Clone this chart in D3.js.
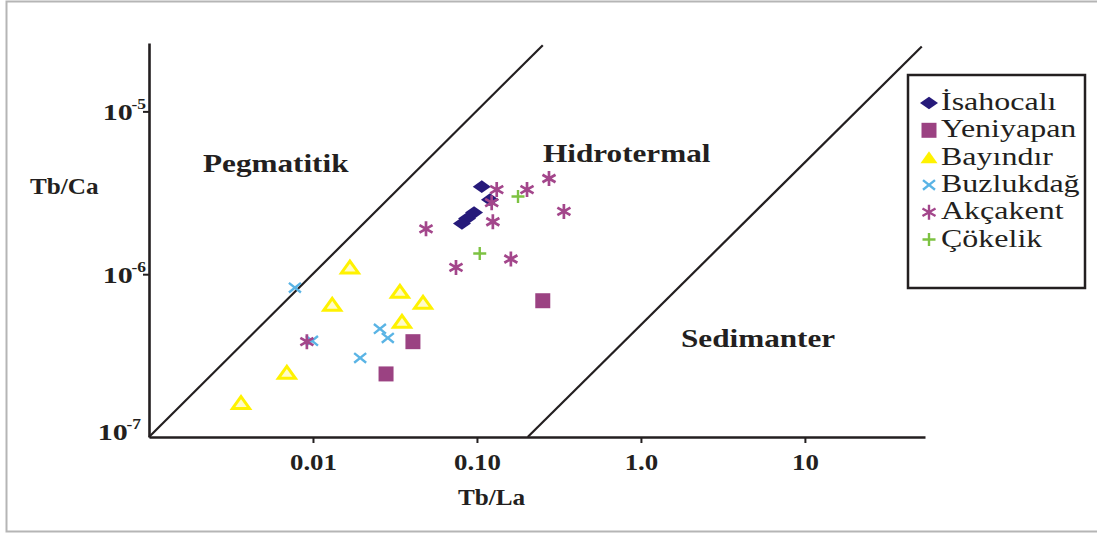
<!DOCTYPE html>
<html>
<head>
<meta charset="utf-8">
<script src="https://cdn.jsdelivr.net/npm/d3@7"></script>
<style>
  body { margin: 0; background: #fff; }
  svg { display: block; }
</style>
</head>
<body>
<div id="vis"></div>
<script>
// values, each point is [Tb/La, Tb/Ca]
var isahocali = [[0.107, 3.45e-6], [0.120, 2.87e-6], [0.096, 2.39e-6], [0.087, 2.2e-6], [0.081, 2.05e-6]];
var yeniyapan = [[0.252, 6.87e-7], [0.0407, 3.85e-7], [0.0279, 2.44e-7]];
var bayindir = [[0.00364, 1.62e-7], [0.00693, 2.48e-7], [0.0131, 6.49e-7], [0.0168, 1.10e-6],
                [0.0339, 7.8e-7], [0.0469, 6.68e-7], [0.0349, 5.1e-7]];
var buzlukdag = [[0.00776, 8.26e-7], [0.00986, 3.9e-7], [0.0256, 4.62e-7], [0.0286, 4.06e-7], [0.0194, 3.06e-7]];
var akcakent = [[0.132, 3.31e-6], [0.123, 2.75e-6], [0.202, 3.31e-6], [0.275, 3.87e-6], [0.339, 2.43e-6],
                [0.125, 2.1e-6], [0.0489, 1.9e-6], [0.0745, 1.10e-6], [0.161, 1.24e-6], [0.00918, 3.85e-7]];
var cokelik = [[0.178, 3.0e-6], [0.104, 1.34e-6]];

var seriesNames = ["İsahocalı", "Yeniyapan", "Bayındır", "Buzlukdağ", "Akçakent", "Çökelik"];
var seriesData = [isahocali, yeniyapan, bayindir, buzlukdag, akcakent, cokelik];

var xTicks = [0.01, 0.1, 1, 10];
var xTickLabels = ["0.01", "0.10", "1.0", "10"];
var yTicks = [1e-7, 1e-6, 1e-5];
var yTickExp = ["-7", "-6", "-5"];

// field boundaries, [x0, y0, x1, y1] in data units
var boundaries = [[0.001, 1e-7, 0.252, 2.55e-5], [0.204, 1e-7, 51.6, 2.5e-5]];
var regionNames = ["Pegmatitik", "Hidrotermal", "Sedimanter"];

var width = 1097, height = 534;
var ink = '#231f20';
var serif = '"Liberation Serif", "Times New Roman", serif';

// marker look for each series
var markStyle = [
  {type: 'diamond', fill: '#261a7a', stroke: 'none', size: 9},
  {type: 'square', fill: '#9b4282', stroke: 'none', size: 7.5},
  {type: 'triangle', fill: '#fffbc8', stroke: '#fff200', size: 8.5},
  {type: 'ex', fill: 'none', stroke: '#5ab4e5', size: 6},
  {type: 'star', fill: 'none', stroke: '#a3468b', size: 7.5},
  {type: 'plus', fill: 'none', stroke: '#7dc242', size: 6.5}
];

// custom symbol types, size = half width
var shapes = {
  diamond: {draw: function (c, s) { c.moveTo(-s, 0); c.lineTo(0, -s * 0.7); c.lineTo(s, 0); c.lineTo(0, s * 0.7); c.closePath(); }},
  square: {draw: function (c, s) { c.rect(-s, -s, 2 * s, 2 * s); }},
  triangle: {draw: function (c, s) { c.moveTo(0, -s * 0.75); c.lineTo(s, s * 0.65); c.lineTo(-s, s * 0.65); c.closePath(); }},
  ex: {draw: function (c, s) { c.moveTo(-s, -s * 0.8); c.lineTo(s, s * 0.8); c.moveTo(-s, s * 0.8); c.lineTo(s, -s * 0.8); }},
  star: {draw: function (c, s) {
    c.moveTo(0, -s); c.lineTo(0, s);
    c.moveTo(-s * 0.87, -s * 0.5); c.lineTo(s * 0.87, s * 0.5);
    c.moveTo(-s * 0.87, s * 0.5); c.lineTo(s * 0.87, -s * 0.5);
  }},
  plus: {draw: function (c, s) { c.moveTo(-s, 0); c.lineTo(s, 0); c.moveTo(0, -s); c.lineTo(0, s); }}
};

function symbolPath(st, scale) {
  return d3.symbol().type(shapes[st.type]).size(st.size * (scale || 1))();
}

var svg = d3.select('#vis').append('svg')
  .attr('width', width)
  .attr('height', height);

svg.append('rect').attr('width', width).attr('height', height).attr('fill', '#fff');
// thin page frame
svg.append('rect')
  .attr('x', 6.5).attr('y', 1.5)
  .attr('width', width + 10).attr('height', 530)
  .attr('fill', 'none').attr('stroke', '#b5b5b5').attr('stroke-width', 2);

var x = d3.scaleLog().domain([0.001, 54]).range([149, 925]);
var y = d3.scaleLog().domain([1e-7, Math.pow(10, -4.58)]).range([437, 43]);

// axes
var xAxis = svg.append('g')
  .attr('transform', 'translate(0,437)')
  .call(d3.axisBottom(x).tickValues(xTicks).tickSize(6).tickSizeOuter(0)
    .tickFormat(function (d, i) { return xTickLabels[i]; }));

var yAxis = svg.append('g')
  .attr('transform', 'translate(149,0)')
  .call(d3.axisLeft(y).tickValues(yTicks).tickSize(6).tickSizeOuter(0).tickFormat(''));

[xAxis, yAxis].forEach(function (ax) {
  ax.select('.domain').attr('stroke', ink).attr('stroke-width', 2.6);
  ax.selectAll('.tick line').attr('stroke', ink).attr('stroke-width', 2);
});
yAxis.selectAll('.tick line').filter(function (d) { return d === 1e-7; }).remove();

xAxis.selectAll('.tick text')
  .attr('y', 33).attr('dy', 0)
  .attr('fill', ink)
  .attr('font-family', serif).attr('font-weight', 'bold').attr('font-size', 24)
  .attr('transform', 'scale(1.12,1)');

var yLab = yAxis.selectAll('.tick').append('text')
  .attr('fill', ink)
  .attr('font-family', serif).attr('font-weight', 'bold')
  .attr('text-anchor', 'end')
  .attr('transform', function (d) { return 'translate(' + (d === 1e-7 ? -8 : -3) + ',' + (d === 1e-7 ? 2 : 8) + ') scale(1.25,1)'; });
yLab.append('tspan').attr('font-size', 24).text('10');
yLab.append('tspan').attr('font-size', 14).attr('dy', -11).attr('dx', -1)
  .text(function (d) { return yTickExp[yTicks.indexOf(d)]; });

// axis titles
function label(txt, px, py, size, sx, weight, anchor) {
  return svg.append('text')
    .attr('transform', 'translate(' + px + ',' + py + ') scale(' + sx + ',1)')
    .attr('text-anchor', anchor || 'start')
    .attr('font-family', serif).attr('font-weight', weight || 'bold')
    .attr('font-size', size).attr('fill', ink)
    .text(txt);
}
label('Tb/La', 458, 505, 24, 1.05);
label('Tb/Ca', 30, 194, 24, 1.05);

// field boundaries
svg.selectAll('.boundary')
  .data(boundaries)
  .enter().append('line')
  .attr('class', 'boundary')
  .attr('x1', function (d) { return x(d[0]); })
  .attr('y1', function (d) { return y(d[1]); })
  .attr('x2', function (d) { return x(d[2]); })
  .attr('y2', function (d) { return y(d[3]); })
  .attr('stroke', ink).attr('stroke-width', 2.2);

label(regionNames[0], 203, 172, 26, 1.2);
label(regionNames[1], 543, 162, 26, 1.2);
label(regionNames[2], 681, 347, 26, 1.2);

// points
seriesData.forEach(function (pts, i) {
  var st = markStyle[i];
  svg.append('g').selectAll('path')
    .data(pts)
    .enter().append('path')
    .attr('transform', function (d) { return 'translate(' + x(d[0]) + ',' + y(d[1]) + ')'; })
    .attr('d', symbolPath(st))
    .attr('fill', st.fill)
    .attr('stroke', st.stroke)
    .attr('stroke-width', st.type === 'triangle' ? 3 : (st.type === 'star' ? 2.7 : 2.4));
});

// legend
var legend = svg.append('g');
legend.append('rect')
  .attr('x', 908).attr('y', 75).attr('width', 177).attr('height', 213)
  .attr('fill', '#fff').attr('stroke', ink).attr('stroke-width', 2.5);

var rows = legend.selectAll('.row')
  .data(seriesNames)
  .enter().append('g')
  .attr('class', 'row')
  .attr('transform', function (d, i) { return 'translate(0,' + (110 + i * 27.3) + ')'; });

rows.append('path')
  .attr('transform', 'translate(929,-7)')
  .attr('d', function (d, i) { return symbolPath(markStyle[i], 1.0); })
  .attr('fill', function (d, i) { return markStyle[i].type === 'triangle' ? '#fff200' : markStyle[i].fill; })
  .attr('stroke', function (d, i) { return markStyle[i].type === 'triangle' ? 'none' : markStyle[i].stroke; })
  .attr('stroke-width', 2.4);

rows.append('text')
  .attr('transform', 'translate(941,0) scale(1.28,1)')
  .attr('font-family', serif).attr('font-size', 25).attr('fill', ink)
  .text(function (d) { return d; });
</script>
</body>
</html>
